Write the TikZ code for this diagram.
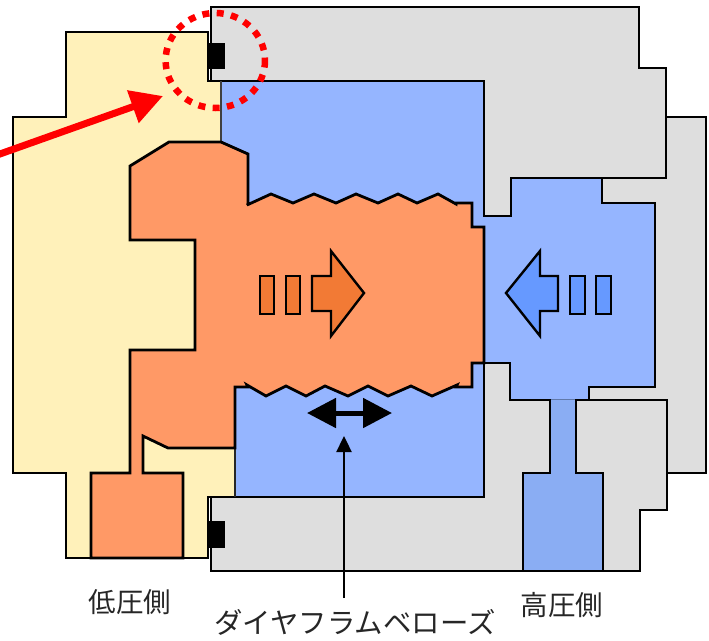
\documentclass[tikz,border=0pt]{standalone}
\usepackage{fontspec}
\newfontfamily\jpfont{Noto Sans CJK JP}
\usetikzlibrary{arrows.meta}
\definecolor{graybody}{HTML}{DEDEDE}
\definecolor{bluefluid}{HTML}{95B5FF}
\definecolor{bluepipe}{HTML}{8AADF3}
\definecolor{yellowfluid}{HTML}{FFF1BA}
\definecolor{orangefluid}{HTML}{FF9966}
\definecolor{orangemark}{HTML}{F27A35}
\definecolor{bluemark}{HTML}{6699FF}
\tikzset{
  outline/.style={draw=black,line width=2.8pt,line join=miter,miter limit=4},
  markline/.style={draw=black,line width=2.4pt,line join=miter},
  jplabel/.style={font=\jpfont\fontsize{27.5pt}{30pt}\selectfont,inner sep=0pt,text=black!85},
}
\begin{document}
\begin{tikzpicture}[x=1pt,y=-1pt]
\useasboundingbox (0,0) rectangle (709,640);
% back body
\path[fill=graybody] (666,117) -- (706,117) -- (706,473) -- (666,473) -- (666,400) -- (560,400) -- (560,178) -- (666,178) -- cycle;
\draw[outline] (666,117) -- (706,117) -- (706,473) -- (666,473);
% high pressure fluid
\path[fill=bluefluid] (221,81) -- (484,81) -- (484,216) -- (511,216) -- (511,178) -- (602,178) -- (602,203) -- (655,203) -- (655,387) -- (589,387) -- (589,400) -- (510,400) -- (510,363) -- (484,363) -- (484,497) -- (235,497) -- (235,387) -- (221,387) -- cycle;
\draw[outline] (602,178) -- (602,203) -- (655,203) -- (655,387) -- (589,387) -- (589,400);
% upper and lower body
\path[outline,fill=graybody] (211,7) -- (639,7) -- (639,68) -- (666,68) -- (666,178) -- (511,178) -- (511,216) -- (484,216) -- (484,81) -- (211,81) -- cycle;
\path[outline,fill=graybody] (211,497) -- (484,497) -- (484,363) -- (510,363) -- (510,400) -- (550,400) -- (550,473) -- (523,473) -- (523,571) -- (603,571) -- (603,473) -- (576,473) -- (576,400) -- (667,400) -- (667,510) -- (640,510) -- (640,571) -- (211,571) -- cycle;
% pipe to high pressure side
\path[fill=bluepipe] (550,400) -- (576,400) -- (576,473) -- (603,473) -- (603,571) -- (523,571) -- (523,473) -- (550,473) -- cycle;
\draw[outline] (576,400) -- (576,473) -- (603,473) -- (603,571) -- (523,571) -- (523,473) -- (550,473) -- (550,400);
\draw[line width=1.5pt,color=bluepipe!70!black] (551,399.5) -- (575,399.5);
% low pressure fluid
\path[fill=yellowfluid] (66,32) -- (208,32) -- (208,81) -- (221,81) -- (221,200) -- (234,448) -- (234,497) -- (208,497) -- (208,558) -- (66,558) -- (66,473) -- (13,473) -- (13,117) -- (66,117) -- cycle;
\draw[outline] (221,81) -- (208,81) -- (208,32) -- (66,32) -- (66,117) -- (13,117) -- (13,473) -- (66,473) -- (66,558) -- (208,558) -- (208,497) -- (235,497);
\draw[line width=1.2pt,color=black!75] (221,81) -- (221,142);
\draw[line width=1.6pt,color=black!85] (235,448) -- (235,497);
% diaphragm bellows
\path[outline,fill=orangefluid] (130,166) -- (169,142) -- (221,142) -- (248,154) -- (248,204) -- (247,205) -- (271,194) -- (293,203) -- (314,194) -- (336,203) -- (356,194) -- (378,203) -- (398,194) -- (417,203) -- (438,194) -- (456,204) -- (456,203) -- (472,203) -- (472,227) -- (484,227) -- (484,363) -- (472,363) -- (472,387) -- (456,387) -- (457,385) -- (432,396) -- (411,386) -- (388,396) -- (368,386) -- (348,396) -- (325,386) -- (306,396) -- (286,386) -- (266,396) -- (247,385) -- (248,387) -- (235,387) -- (235,448) -- (168,448) -- (143,436) -- (143,473) -- (183,473) -- (183,558) -- (91,558) -- (91,473) -- (130,473) -- (130,350) -- (195,350) -- (195,240) -- (130,240) -- cycle;
% seals
\path[fill=black] (207,43) rectangle (225,69);
\path[fill=black] (207,521) rectangle (225,548);
% movement marks
\path[markline,fill=orangemark] (260,276) rectangle (274,314);
\path[markline,fill=orangemark] (286,276) rectangle (300,314);
\path[markline,fill=orangemark] (312,276) -- (331,276) -- (331,251) -- (364,293) -- (331,336) -- (331,311) -- (312,311) -- cycle;
\path[markline,fill=bluemark] (570,276) rectangle (585,314);
\path[markline,fill=bluemark] (596,276) rectangle (611,314);
\path[markline,fill=bluemark] (558,276) -- (540,276) -- (540,251) -- (506,293) -- (540,336) -- (540,311) -- (558,311) -- cycle;
% named ends
\coordinate (redstart) at (-15,159.3);
\coordinate (redtip) at (163,96);
\coordinate (leftend) at (307,413);
\coordinate (rightend) at (392,413);
\coordinate (pointerstart) at (344,598);
\coordinate (pointertip) at (344,436);
\draw[line width=7pt,red,-{Triangle[length=32pt,width=33pt]}] (redstart) -- (redtip);
\draw[line width=5pt,black,{Triangle[length=29pt,width=29pt]}-{Triangle[length=29pt,width=29pt]}] (leftend) -- (rightend);
\draw[line width=2.4pt,black,-{Triangle[length=16pt,width=15pt]}] (pointerstart) -- (pointertip);
% highlight
\draw[red,line width=6.5pt,dash pattern=on 7pt off 7.4pt] (215.3,60.5) ellipse [x radius=49.7,y radius=47.5];
% labels
\node[jplabel] (lowside) at (130,602) {低圧側};
\node[jplabel] (highside) at (562,605) {高圧側};
\node[jplabel,font=\jpfont\fontsize{28.4pt}{30pt}\selectfont] (bellows) at (355,622) {ダイヤフラムベローズ};
\end{tikzpicture}
\end{document}
